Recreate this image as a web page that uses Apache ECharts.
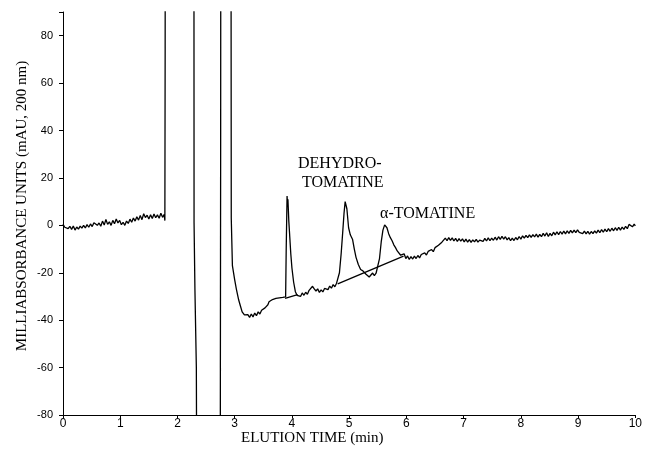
<!DOCTYPE html>
<html>
<head>
<meta charset="utf-8">
<script src="https://cdn.jsdelivr.net/npm/echarts@6/dist/echarts.min.js"></script>
<style>html,body{margin:0;padding:0;background:#fff;}#c{width:645px;height:454px;}</style>
</head>
<body>
<div id="c"></div>
<script>
// Chromatogram trace: [elution time (min), mAU]
var tracePre = [
 [0.00,0.5],[0.03,-0.8],[0.06,-0.3],[0.09,-1.4],[0.12,-0.4],[0.15,-1.7],[0.18,-0.3],[0.21,-2.0],[0.24,-0.7],[0.27,-1.6],
 [0.30,-0.3],[0.33,-1.2],[0.36,0.0],[0.39,-1.1],[0.42,0.3],[0.45,-0.8],[0.48,0.6],[0.51,-0.5],[0.54,1.1],[0.57,1.9],
 [0.60,0.0],[0.63,1.0],[0.66,-0.4],[0.69,1.8],[0.72,0.1],[0.75,2.5],[0.78,0.4],[0.81,1.5],[0.84,0.0],[0.87,2.1],
 [0.90,0.7],[0.93,2.7],[0.96,1.0],[0.99,2.1],[1.02,0.3],[1.05,1.3],[1.08,0.0],[1.11,1.8],[1.14,0.8],[1.17,2.6],
 [1.20,1.3],[1.23,3.1],[1.26,1.8],[1.29,3.6],[1.32,2.2],[1.35,4.2],[1.38,2.4],[1.41,4.9],[1.44,3.3],[1.47,4.3],
 [1.50,2.7],[1.53,4.5],[1.56,2.9],[1.59,4.8],[1.62,3.2],[1.65,4.4],[1.68,3.0],[1.71,5.1],[1.74,3.4],[1.77,4.6],
 [1.78,2.0]
];
var traceFront = [
 [1.785,75],[1.79,300],[2.285,300],[2.29,1],[2.305,-27],[2.33,-60],[2.36,-300],
 [2.74,-300],[2.75,-60],[2.755,40],[2.76,300],[2.93,300],[2.94,3],[2.96,-17],[3.00,-23],
 [3.03,-27],[3.07,-31.5],[3.10,-34],[3.13,-36.5],[3.17,-37.8],[3.20,-38.5]
];
var tracePeaks = [
 [3.23,-37.7],[3.26,-38.8],[3.29,-37.4],[3.32,-38.6],[3.35,-37.0],[3.38,-38.1],[3.41,-36.5],[3.44,-37.4],[3.47,-35.8],[3.50,-36.0],
 [3.53,-34.8],[3.56,-35.6],[3.58,-33.5],[3.60,-32.2],[3.63,-32.2],[3.66,-31.3],[3.69,-32.0],[3.72,-30.8],[3.75,-31.6],[3.78,-30.6],
 [3.81,-31.4],[3.84,-30.4],[3.87,-31.0],[3.89,-30.2],[3.90,-10],[3.915,12.4],[3.925,8],[3.93,11],[3.945,2],[3.96,-4],
 [3.98,-12],[4.00,-18],[4.03,-24],[4.06,-28],[4.09,-29.5],[4.12,-28.8],[4.15,-30.0],[4.18,-28.5],[4.21,-29.5],[4.24,-28.2],
 [4.27,-29.1],[4.30,-27.4],[4.33,-26.6],[4.36,-25.7],[4.39,-26.8],[4.42,-27.7],[4.45,-26.8],[4.48,-28.3],[4.51,-27.2],[4.54,-28.1],
 [4.57,-26.6],[4.60,-26.4],[4.63,-27.1],[4.66,-25.6],[4.69,-26.5],[4.72,-25.0],[4.75,-25.9],[4.78,-24.4],[4.80,-24.6],[4.83,-20],
 [4.86,-12],[4.89,-2],[4.91,5],[4.93,10],[4.945,10.7],[4.96,7],[4.99,-1],[5.02,-4],[5.06,-6],[5.09,-10],
 [5.12,-13.5],[5.16,-16.5],[5.20,-18.6],[5.24,-19.2],[5.29,-20.5],[5.32,-19.8],[5.35,-21.8],[5.38,-21.0],[5.41,-20.1],[5.44,-21.2],
 [5.47,-20.2],[5.50,-19.5],[5.53,-14],[5.56,-7],[5.59,-2],[5.62,0.2],[5.64,0.4],[5.66,-1],[5.69,-3.5],[5.72,-5.2],
 [5.75,-6.5],[5.78,-8.2],[5.81,-9.4],[5.84,-10.8],[5.87,-11.5],[5.90,-12.6],[5.93,-13]
];
var tracePost = [
 [5.96,-12.0],[5.99,-14.0],[6.02,-12.9],[6.05,-14.4],[6.08,-13.2],[6.11,-14.2],[6.14,-13.0],[6.17,-14.0],[6.20,-12.7],[6.23,-13.7],
 [6.26,-12.3],[6.29,-13.1],[6.32,-11.6],[6.35,-12.5],[6.38,-11.0],[6.41,-11.8],[6.44,-10.2],[6.47,-11.1],[6.50,-9.4],[6.53,-10.1],
 [6.56,-8.4],[6.59,-9.1],[6.62,-7.1],[6.65,-7.0],[6.68,-5.4],[6.71,-6.5],[6.74,-5.2],[6.77,-6.3],[6.80,-5.3],[6.83,-6.6],
 [6.86,-5.5],[6.89,-6.8],[6.92,-5.6],[6.95,-6.7],[6.98,-5.7],[7.01,-7.0],[7.04,-5.8],[7.07,-7.1],[7.10,-6.0],[7.13,-7.2],
 [7.16,-6.1],[7.19,-7.0],[7.22,-5.9],[7.25,-7.1],[7.28,-6.2],[7.31,-5.6],[7.34,-6.8],[7.37,-5.5],[7.40,-6.6],[7.43,-5.3],
 [7.46,-6.5],[7.49,-5.4],[7.52,-6.3],[7.55,-5.0],[7.58,-6.2],[7.61,-4.8],[7.64,-5.9],[7.67,-4.6],[7.70,-5.8],[7.73,-4.8],
 [7.76,-6.1],[7.79,-5.2],[7.82,-6.5],[7.85,-5.4],[7.88,-6.4],[7.91,-5.1],[7.94,-6.1],[7.97,-4.7],[8.00,-5.8],[8.03,-4.4],
 [8.06,-5.4],[8.09,-4.2],[8.12,-5.2],[8.15,-4.0],[8.18,-5.1],[8.21,-3.9],[8.24,-4.9],[8.27,-3.7],[8.30,-5.0],[8.33,-3.8],
 [8.36,-4.8],[8.39,-3.4],[8.42,-4.5],[8.45,-3.1],[8.48,-4.7],[8.51,-3.4],[8.54,-4.4],[8.57,-2.9],[8.60,-4.0],[8.63,-2.7],
 [8.66,-3.9],[8.69,-2.6],[8.72,-3.7],[8.75,-2.4],[8.78,-3.6],[8.81,-2.3],[8.84,-3.4],[8.87,-2.1],[8.90,-3.2],[8.93,-2.0],
 [8.96,-3.1],[8.99,-1.9],[9.02,-3.0],[9.05,-2.2],[9.08,-3.5],[9.11,-2.4],[9.14,-3.6],[9.17,-2.5],[9.20,-3.7],[9.23,-2.6],
 [9.26,-3.5],[9.29,-2.3],[9.32,-3.3],[9.35,-2.0],[9.38,-3.1],[9.41,-1.8],[9.44,-2.9],[9.47,-1.6],[9.50,-2.7],[9.53,-1.4],
 [9.56,-2.5],[9.59,-1.2],[9.62,-2.3],[9.65,-1.0],[9.68,-2.1],[9.71,-0.8],[9.74,-2.0],[9.77,-0.7],[9.80,-1.7],[9.83,-0.4],
 [9.86,-1.4],[9.89,0.4],[9.92,1.1],[9.95,-0.6],[9.98,0.5],[10.0,-0.2]
];
// Integration baselines drawn under the peaks
var baseline1 = [[3.88,-30.8],[4.10,-29.2]];
var baseline2 = [[4.80,-24.7],[5.95,-13.0]];
// Axis settings (values)
var xMin = 0, xMax = 10, xStep = 1;
var yMin = -80, yMax = 90, yStep = 20;
var peakLabels = ['DEHYDRO-', 'TOMATINE', 'α-TOMATINE'];
var xName = 'ELUTION TIME (min)';
var yName = 'MILLIABSORBANCE UNITS (mAU, 200 nm)';

var trace = tracePre.concat(traceFront, tracePeaks, tracePost);
var chart = echarts.init(document.getElementById('c'), null, {renderer: 'canvas'});
var serif = '"Liberation Serif", "DejaVu Serif", serif';
var narrow = '"Liberation Sans Narrow", "Liberation Sans", sans-serif';
var lineStyle = {color: '#000', width: 1.3};
chart.setOption({
  animation: false,
  backgroundColor: '#fff',
  grid: {left: 63, right: 5, top: 12, bottom: 39, containLabel: false},
  xAxis: {
    type: 'value', min: xMin, max: xMax, interval: xStep,
    axisLine: {show: true, onZero: false, lineStyle: {color: '#000', width: 1}},
    axisTick: {show: true, length: 3, lineStyle: {color: '#000'}},
    axisLabel: {color: '#000', fontSize: 12, fontFamily: narrow, margin: 3},
    splitLine: {show: false}
  },
  yAxis: {
    type: 'value', min: yMin, max: yMax, interval: yStep,
    axisLine: {show: true, onZero: false, lineStyle: {color: '#000', width: 1}},
    axisTick: {show: true, length: 4, lineStyle: {color: '#000'}},
    axisLabel: {color: '#000', fontSize: 11, fontFamily: narrow, margin: 10,
      formatter: function (v) { return v > 80 ? '' : String(v); }},
    splitLine: {show: false}
  },
  series: [
    {type: 'line', data: trace, showSymbol: false, symbol: 'none', clip: true, lineStyle: lineStyle, silent: true},
    {type: 'line', data: baseline1, showSymbol: false, symbol: 'none', clip: true, lineStyle: lineStyle, silent: true},
    {type: 'line', data: baseline2, showSymbol: false, symbol: 'none', clip: true, lineStyle: lineStyle, silent: true}
  ],
  graphic: [
    {type: 'text', left: 298, top: 156, style: {text: peakLabels[0], font: '16px ' + serif, fill: '#000'}},
    {type: 'text', left: 302, top: 175, style: {text: peakLabels[1], font: '16px ' + serif, fill: '#000'}},
    {type: 'text', left: 380, top: 206, style: {text: peakLabels[2], font: '16px ' + serif, fill: '#000'}},
    {type: 'text', left: 241, top: 431, style: {text: xName, font: '15px ' + serif, fill: '#000'}},
    {type: 'text', x: 22, y: 206, rotation: Math.PI / 2,
      style: {text: yName, font: '15px ' + serif, fill: '#000', textAlign: 'center', textVerticalAlign: 'middle'}}
  ]
});
</script>
</body>
</html>
